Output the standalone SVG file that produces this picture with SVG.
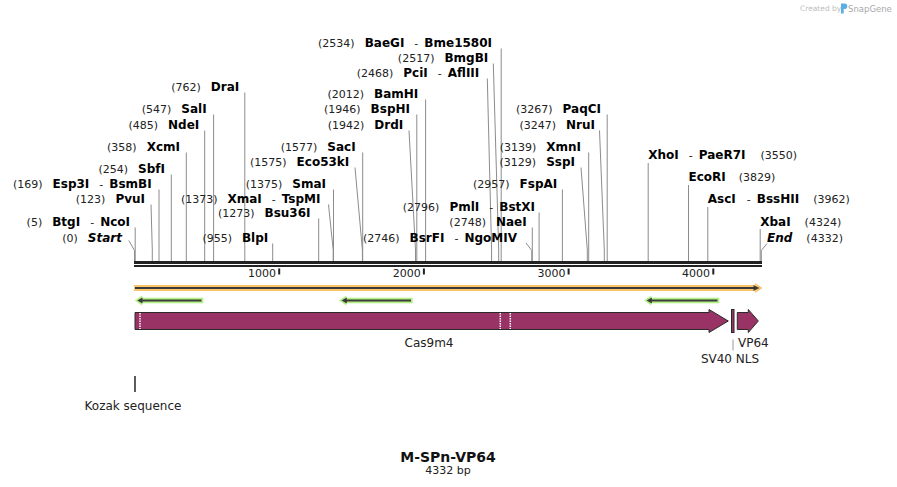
<svg xmlns="http://www.w3.org/2000/svg" width="897" height="487" viewBox="0 0 897 487">
<style>
text{font-family:"DejaVu Sans","Liberation Sans",sans-serif}
.n{font-size:11px;fill:#222}
.b{font-size:12px;font-weight:bold;fill:#000}
.bi{font-size:12px;font-weight:bold;font-style:italic;fill:#000}
.cut{stroke:#8c8c8c;stroke-width:1;fill:none}
.tk{font-size:11px;fill:#222}
.lbl{font-size:12px;fill:#222}
.feat{fill:#993366;stroke:#2a2a2a;stroke-width:1}
.dot{stroke:#fff;stroke-width:1.5;stroke-dasharray:1.5 1}
.gb{fill:#b2f085}
.dk{fill:#3a3a3a}
</style>
<rect width="897" height="487" fill="#fff"/>
<g id="watermark">
<text x="800" y="11" style="font-size:7.5px;fill:#bdbdbd">Created by</text>
<path d="M841,3.5 h3.5 a2.8,2.8 0 0 1 0,5.6 h-0.8 v4.4 h-2.7 z" fill="#5aaee3"/>
<text x="848" y="11.5" style="font-size:8.5px;fill:#a8a8a8">SnapGene</text>
</g>
<g id="connectors">
<path class="cut" d="M244.8,92.5V261"/>
<path class="cut" d="M213.6,114.5V261"/>
<path class="cut" d="M204.7,130.5V261"/>
<path class="cut" d="M186.3,152.5V261"/>
<path class="cut" d="M171.3,174.5V261"/>
<path class="cut" d="M159,189.5V261"/>
<path class="cut" d="M151,204.5L152.3,250V261"/>
<path class="cut" d="M135.2,227.5V261"/>
<path class="cut" d="M128.8,240.5L134.5,250.5V261"/>
<path class="cut" d="M272.7,243.5V261"/>
<path class="cut" d="M318.7,218.5V261"/>
<path class="cut" d="M328.5,204.5L333.2,250V261"/>
<path class="cut" d="M333.5,189.5V261"/>
<path class="cut" d="M355,167.5L362.4,250V261"/>
<path class="cut" d="M362.7,152.5V261"/>
<path class="cut" d="M409,130.5L415.5,250V261"/>
<path class="cut" d="M416.8,114.5V261"/>
<path class="cut" d="M425.6,99.5V261"/>
<path class="cut" d="M487.3,78.5L491.6,250V261"/>
<path class="cut" d="M493.3,63.5L498.7,250V261"/>
<path class="cut" d="M501.2,48.5V261"/>
<path class="cut" d="M526,243L531.8,250.5V261"/>
<path class="cut" d="M532.3,227.5V261"/>
<path class="cut" d="M539.1,212.5V261"/>
<path class="cut" d="M562.4,189.5V261"/>
<path class="cut" d="M581,167.5L587.3,250V261"/>
<path class="cut" d="M588.7,152.5V261"/>
<path class="cut" d="M599.5,130.5L604.3,250V261"/>
<path class="cut" d="M607.2,114.5V261"/>
<path class="cut" d="M648.2,163V261"/>
<path class="cut" d="M688.5,185V261"/>
<path class="cut" d="M707.8,207V261"/>
<path class="cut" d="M760.2,229V261"/>
<path class="cut" d="M767,243.5L761.3,250.5V261"/>
<line x1="733" y1="339.5" x2="733" y2="350.5" stroke="#999" stroke-width="1"/>
<line x1="135" y1="376" x2="135" y2="392" stroke="#333" stroke-width="1.6"/>
</g>
<g id="sites">
<text x="239.3" y="90.5" text-anchor="end"><tspan class="n">(762)</tspan><tspan class="b" dx="10">DraI</tspan></text>
<text x="206.7" y="112.5" text-anchor="end"><tspan class="n">(547)</tspan><tspan class="b" dx="10">SalI</tspan></text>
<text x="199.3" y="128.5" text-anchor="end"><tspan class="n">(485)</tspan><tspan class="b" dx="10">NdeI</tspan></text>
<text x="180" y="150.5" text-anchor="end"><tspan class="n">(358)</tspan><tspan class="b" dx="10">XcmI</tspan></text>
<text x="165" y="172.5" text-anchor="end"><tspan class="n">(254)</tspan><tspan class="b" dx="10">SbfI</tspan></text>
<text x="151.7" y="187.5" text-anchor="end"><tspan class="n">(169)</tspan><tspan class="b" dx="10">Esp3I</tspan><tspan class="n" dx="10">-</tspan><tspan class="b" dx="6">BsmBI</tspan></text>
<text x="145" y="202.5" text-anchor="end"><tspan class="n">(123)</tspan><tspan class="b" dx="10">PvuI</tspan></text>
<text x="130" y="225.5" text-anchor="end"><tspan class="n">(5)</tspan><tspan class="b" dx="10">BtgI</tspan><tspan class="n" dx="10">-</tspan><tspan class="b" dx="6">NcoI</tspan></text>
<text x="122" y="241.5" text-anchor="end"><tspan class="n">(0)</tspan><tspan class="bi" dx="10">Start</tspan></text>
<text x="268.3" y="241.5" text-anchor="end"><tspan class="n">(955)</tspan><tspan class="b" dx="10">BlpI</tspan></text>
<text x="310.5" y="216.5" text-anchor="end"><tspan class="n">(1273)</tspan><tspan class="b" dx="10">Bsu36I</tspan></text>
<text x="320.5" y="202.5" text-anchor="end"><tspan class="n">(1373)</tspan><tspan class="b" dx="10">XmaI</tspan><tspan class="n" dx="10">-</tspan><tspan class="b" dx="6">TspMI</tspan></text>
<text x="326" y="187.5" text-anchor="end"><tspan class="n">(1375)</tspan><tspan class="b" dx="10">SmaI</tspan></text>
<text x="349.3" y="165.5" text-anchor="end"><tspan class="n">(1575)</tspan><tspan class="b" dx="10">Eco53kI</tspan></text>
<text x="355.7" y="150.5" text-anchor="end"><tspan class="n">(1577)</tspan><tspan class="b" dx="10">SacI</tspan></text>
<text x="403.3" y="128.5" text-anchor="end"><tspan class="n">(1942)</tspan><tspan class="b" dx="10">DrdI</tspan></text>
<text x="410" y="112.5" text-anchor="end"><tspan class="n">(1946)</tspan><tspan class="b" dx="10">BspHI</tspan></text>
<text x="418.3" y="97.5" text-anchor="end"><tspan class="n">(2012)</tspan><tspan class="b" dx="10">BamHI</tspan></text>
<text x="479.3" y="76.5" text-anchor="end"><tspan class="n">(2468)</tspan><tspan class="b" dx="10">PciI</tspan><tspan class="n" dx="10">-</tspan><tspan class="b" dx="6">AflIII</tspan></text>
<text x="488.3" y="61.5" text-anchor="end"><tspan class="n">(2517)</tspan><tspan class="b" dx="10">BmgBI</tspan></text>
<text x="492" y="46.5" text-anchor="end"><tspan class="n">(2534)</tspan><tspan class="b" dx="10">BaeGI</tspan><tspan class="n" dx="10">-</tspan><tspan class="b" dx="6">Bme1580I</tspan></text>
<text x="517" y="241.5" text-anchor="end"><tspan class="n">(2746)</tspan><tspan class="b" dx="10">BsrFI</tspan><tspan class="n" dx="10">-</tspan><tspan class="b" dx="6">NgoMIV</tspan></text>
<text x="526.7" y="225.5" text-anchor="end"><tspan class="n">(2748)</tspan><tspan class="b" dx="10">NaeI</tspan></text>
<text x="535" y="210.5" text-anchor="end"><tspan class="n">(2796)</tspan><tspan class="b" dx="10">PmlI</tspan><tspan class="n" dx="10">-</tspan><tspan class="b" dx="6">BstXI</tspan></text>
<text x="557.3" y="187.5" text-anchor="end"><tspan class="n">(2957)</tspan><tspan class="b" dx="10">FspAI</tspan></text>
<text x="575" y="165.5" text-anchor="end"><tspan class="n">(3129)</tspan><tspan class="b" dx="10">SspI</tspan></text>
<text x="581" y="150.5" text-anchor="end"><tspan class="n">(3139)</tspan><tspan class="b" dx="10">XmnI</tspan></text>
<text x="595" y="128.5" text-anchor="end"><tspan class="n">(3247)</tspan><tspan class="b" dx="10">NruI</tspan></text>
<text x="601" y="112.5" text-anchor="end"><tspan class="n">(3267)</tspan><tspan class="b" dx="10">PaqCI</tspan></text>
<text x="648.2" y="158.5"><tspan class="b">XhoI</tspan><tspan class="n" dx="10">-</tspan><tspan class="b" dx="6">PaeR7I</tspan><tspan class="n" dx="15">(3550)</tspan></text>
<text x="688.5" y="180.5"><tspan class="b">EcoRI</tspan><tspan class="n" dx="13">(3829)</tspan></text>
<text x="707.8" y="202.5"><tspan class="b">AscI</tspan><tspan class="n" dx="11">-</tspan><tspan class="b" dx="6">BssHII</tspan><tspan class="n" dx="14">(3962)</tspan></text>
<text x="760.2" y="225.5"><tspan class="b">XbaI</tspan><tspan class="n" dx="14">(4324)</tspan></text>
<text x="767" y="241.5"><tspan class="bi">End</tspan><tspan class="n" dx="14">(4332)</tspan></text>
</g>
<g id="ruler">
<rect x="134" y="261" width="628" height="3" fill="#222"/>
<rect x="134" y="265" width="628" height="2" fill="#222"/>
<rect x="278.2" y="268.5" width="2" height="6" fill="#222"/>
<rect x="422.9" y="268.5" width="2" height="6" fill="#222"/>
<rect x="567.6" y="268.5" width="2" height="6" fill="#222"/>
<rect x="712.3" y="268.5" width="2" height="6" fill="#222"/>
<text class="tk" x="276" y="277" text-anchor="end">1000</text>
<text class="tk" x="420.7" y="277" text-anchor="end">2000</text>
<text class="tk" x="565.4" y="277" text-anchor="end">3000</text>
<text class="tk" x="710.1" y="277" text-anchor="end">4000</text>
</g>
<g id="orange-feature">
<rect x="134" y="285" width="621" height="6" fill="#fbc56e"/>
<polygon points="755,283 762.5,288 755,293" fill="#fbc56e"/>
<rect x="135" y="287" width="619" height="2" fill="#3a3a3a"/>
<polygon points="753.5,285.3 759.5,288 753.5,290.7" fill="#3a3a3a"/>
</g>
<g id="primer1">
<rect x="141" y="297.7" width="62.3" height="5.6" class="gb"/>
<polygon points="134.7,300.5 142,295.5 142,305.5" class="gb"/>
<rect x="141" y="299.5" width="60.5" height="2" class="dk"/>
<polygon points="137.3,300.5 142.5,297.6 142.5,303.4" class="dk"/>
</g>
<g id="primer2">
<rect x="346" y="297.7" width="66.7" height="5.6" class="gb"/>
<polygon points="339,300.5 346.3,295.5 346.3,305.5" class="gb"/>
<rect x="345" y="299.5" width="66" height="2" class="dk"/>
<polygon points="341.6,300.5 346.8,297.6 346.8,303.4" class="dk"/>
</g>
<g id="primer3">
<rect x="651" y="297.7" width="68.3" height="5.6" class="gb"/>
<polygon points="644,300.5 651.3,295.5 651.3,305.5" class="gb"/>
<rect x="650" y="299.5" width="67.5" height="2" class="dk"/>
<polygon points="646.6,300.5 651.8,297.6 651.8,303.4" class="dk"/>
</g>
<g id="cas9m4">
<polygon class="feat" points="135,312.5 709,312.5 709,309.5 728.3,321 709,332.5 709,329.5 135,329.5"/>
<line class="dot" x1="140" y1="313" x2="140" y2="329"/>
<line class="dot" x1="500.3" y1="313" x2="500.3" y2="329"/>
<line class="dot" x1="510.3" y1="313" x2="510.3" y2="329"/>
<text class="lbl" x="429" y="346.5" text-anchor="middle">Cas9m4</text>
</g>
<g id="sv40nls">
<rect class="feat" x="731.5" y="309.5" width="2.5" height="23"/>
<text class="lbl" x="730" y="362.5" text-anchor="middle">SV40 NLS</text>
</g>
<g id="vp64">
<polygon class="feat" points="737.3,312.5 748.3,312.5 748.3,309.5 758.3,321 748.3,332.5 748.3,329.5 737.3,329.5"/>
<text class="lbl" x="738" y="346.5">VP64</text>
</g>
<g id="kozak">
<text class="lbl" x="133" y="410" text-anchor="middle">Kozak sequence</text>
</g>
<g id="title">
<text x="448" y="461.5" text-anchor="middle" style="font-size:14px;font-weight:bold;fill:#111">M-SPn-VP64</text>
<text x="448" y="474.3" text-anchor="middle" class="n">4332 bp</text>
</g>
</svg>
